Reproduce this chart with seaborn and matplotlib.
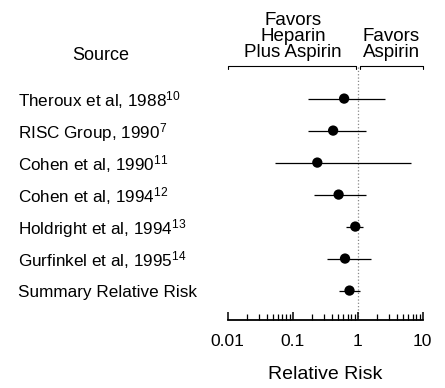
import seaborn as sns
import numpy as np
import pandas as pd
from matplotlib import pyplot as plt
from matplotlib import transforms

sources = ["Theroux et al, 1988$^{10}$", "RISC Group, 1990$^{7}$", "Cohen et al, 1990$^{11}$",
           "Cohen et al, 1994$^{12}$", "Holdright et al, 1994$^{13}$", "Gurfinkel et al, 1995$^{14}$",
           "Summary Relative Risk"]
rr = [0.62, 0.42, 0.24, 0.51, 0.92, 0.64, 0.75]
ci_low = [0.17, 0.175, 0.054, 0.21, 0.66, 0.34, 0.51]
ci_high = [2.6, 1.34, 6.5, 1.34, 1.22, 1.6, 1.07]
xticks = [0.01, 0.1, 1, 10]
xticklabels = ["0.01", "0.1", "1", "10"]

sns.set_theme(style="white")
plt.rcParams['font.family'] = ['Liberation Sans', 'DejaVu Sans']
plt.rcParams['mathtext.default'] = 'regular'
plt.rcParams['text.color'] = 'black'
plt.rcParams['xtick.color'] = 'black'
plt.rcParams['axes.labelcolor'] = 'black'

df = pd.DataFrame({"source": sources, "rr": rr, "lo": ci_low, "hi": ci_high, "row": range(len(sources))})

fig = plt.figure(figsize=(4.45, 3.88), dpi=100)
ax = fig.add_axes([227.5 / 445, 1 - 320 / 388, (422.7 - 227.5) / 445, (320 - 65) / 388])

# reference line at RR = 1
ax.axvline(1, color="#888888", linestyle=":", lw=0.9, zorder=0)

# confidence intervals and point estimates
ax.hlines(df["row"], df["lo"], df["hi"], color="black", lw=0.9, zorder=1)
sns.scatterplot(data=df, x="rr", y="row", color="black", s=55, edgecolor="none", ax=ax, zorder=2, legend=False)

ax.set_xscale("log")
ax.set_xlim(0.01, 10)
ax.set_ylim(6.92, -1.05)
ax.set_xticks(xticks)
ax.set_xticklabels(xticklabels, fontsize=12.5)
ax.set_yticks([])
ax.set_ylabel("")
ax.set_xlabel("Relative Risk", fontsize=14, labelpad=12.5)
ax.tick_params(axis="x", which="major", direction="in", length=6, width=1.1, pad=10, bottom=True)
ax.tick_params(axis="x", which="minor", direction="in", length=4, width=0.9, bottom=True)
for side in ["left", "top", "right"]:
    ax.spines[side].set_visible(False)
ax.spines["bottom"].set_linewidth(1.3)
ax.spines["bottom"].set_color("black")

# row labels
trans = transforms.blended_transform_factory(fig.transFigure, ax.transData)
for i, s in enumerate(sources):
    ax.text(18 / 445, i + 0.05, s, transform=trans, ha="left", va="center", fontsize=12.3, clip_on=False)

fig.text(100.5 / 445, 1 - 55 / 388, "Source", ha="center", va="center", fontsize=13)

# header brackets
bk = dict(color="black", lw=0.8, clip_on=False)
ax.plot([0.01, 0.01, 0.94, 0.94], [-0.92, -1.02, -1.02, -0.92], **bk)
ax.plot([1.07, 1.07, 10, 10], [-0.92, -1.02, -1.02, -0.92], **bk)
ax.text(0.102, -1.17, "Favors\nHeparin\nPlus Aspirin", ha="center", va="bottom", fontsize=13.5,
        linespacing=0.92, clip_on=False)
ax.text(3.27, -1.17, "Favors\nAspirin", ha="center", va="bottom", fontsize=13.5,
        linespacing=0.92, clip_on=False)

fig.savefig("out.png", dpi=100)
